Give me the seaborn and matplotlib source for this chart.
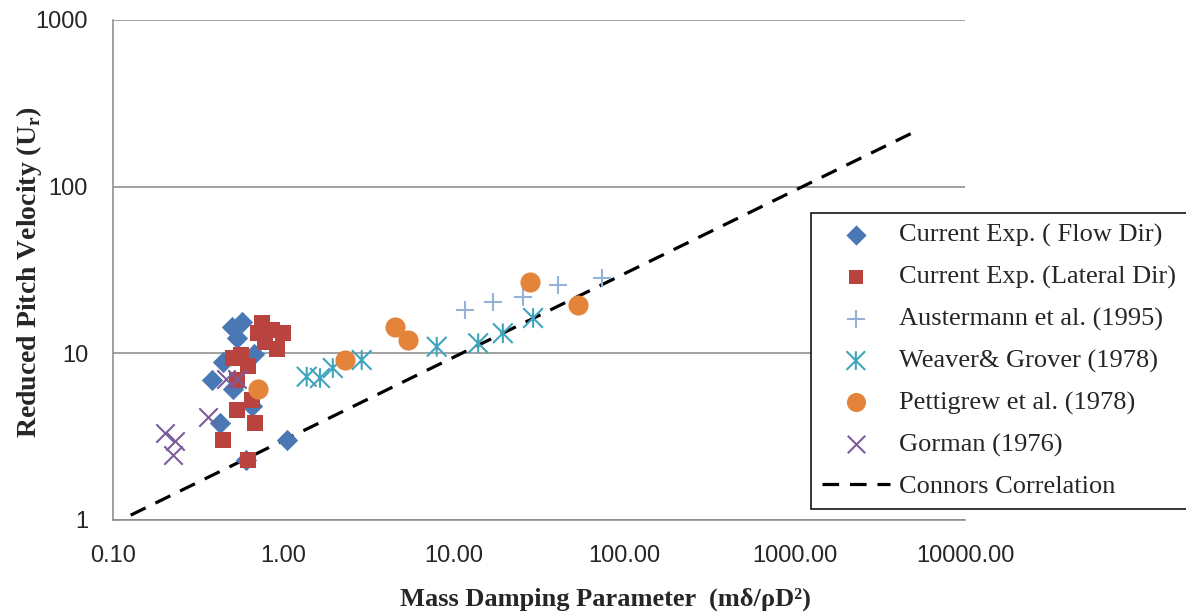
import numpy as np
import pandas as pd
import matplotlib
matplotlib.use("Agg")
import matplotlib.pyplot as plt
from matplotlib import font_manager
from matplotlib.path import Path
from matplotlib.ticker import FixedLocator, FixedFormatter, NullLocator
import seaborn as sns

# ---------------- data ----------------
flow_x = [0.499, 0.571, 0.534, 0.443, 0.381, 0.506, 0.654, 0.425, 1.05, 0.603, 0.672]
flow_y = [14.4, 15.4, 12.4, 8.87, 6.92, 6.11, 4.83, 3.82, 3.02, 2.29, 9.9]

lateral_x = [0.749, 0.857, 0.709, 0.995, 0.780, 0.917, 0.506, 0.564, 0.620,
             0.534, 0.654, 0.534, 0.681, 0.443, 0.620]
lateral_y = [15.2, 13.8, 13.2, 13.2, 11.7, 10.6, 9.37, 9.77, 8.39,
             6.92, 5.25, 4.57, 3.82, 3.02, 2.29]

austermann_x = [11.6, 17.0, 25.5, 40.9, 74.1]
austermann_y = [18.2, 20.3, 21.8, 25.7, 28.3]

weaver_x = [1.37, 1.64, 1.95, 2.88, 7.94, 13.9, 19.4, 29.2]
weaver_y = [7.24, 7.11, 8.16, 9.12, 10.96, 11.5, 13.2, 16.3]

pettigrew_x = [0.709, 2.30, 4.52, 5.38, 28.0, 53.6]
pettigrew_y = [6.11, 9.12, 14.4, 12.0, 26.8, 19.5]

gorman_x = [0.202, 0.231, 0.225, 0.361, 0.460, 0.534]
gorman_y = [3.32, 2.98, 2.45, 4.15, 7.01, 7.01]

# Connors correlation: Ur = K * (m delta / rho D^2) ** 0.5
connors_k = 3.0
connors_exp = 0.5
connors_x = [0.127, 5000.0]

x_ticks = [0.1, 1, 10, 100, 1000, 10000]
x_tick_labels = ["0.10", "1.00", "10.00", "100.00", "1000.00", "10000.00"]
y_ticks = [1, 10, 100, 1000]
y_tick_labels = ["1", "10", "100", "1000"]

labels = ["Current Exp. ( Flow Dir)", "Current Exp. (Lateral Dir)",
          "Austermann et al. (1995)", "Weaver& Grover (1978)",
          "Pettigrew et al. (1978)", "Gorman (1976)", "Connors Correlation"]

# ---------------- style ----------------
sns.set_style("white")
plt.rcParams["font.family"] = ["Liberation Serif", "DejaVu Serif"]
plt.rcParams["mathtext.fontset"] = "custom"
plt.rcParams["mathtext.rm"] = "Liberation Serif:bold"
plt.rcParams["mathtext.bf"] = "Liberation Serif:bold"

available = {f.name for f in font_manager.fontManager.ttflist}
if "Liberation Sans Narrow" in available:
    xtick_font, xtick_size = "Liberation Sans Narrow", 20
else:
    xtick_font, xtick_size = "Liberation Sans", 17

c_flow = "#4A78B4"
c_lat = "#B9433F"
c_aus = "#95B3D7"
c_weav = "#3FA5BD"
c_pet = "#E3843A"
c_gor = "#7B5C9C"

# Excel-style star: vertical bar plus a diagonal cross
star = Path([(0, -1), (0, 1), (-1, -1), (1, 1), (-1, 1), (1, -1)],
            [Path.MOVETO, Path.LINETO, Path.MOVETO, Path.LINETO,
             Path.MOVETO, Path.LINETO])

fig = plt.figure(figsize=(11.86, 6.15), dpi=100)
ax = fig.add_axes([113 / 1186, 95 / 615, 852 / 1186, 500 / 615])

# dashed correlation line (under the markers)
cx = np.array(connors_x)
line_df = pd.DataFrame({"x": cx, "y": connors_k * cx ** connors_exp})
sns.lineplot(data=line_df, x="x", y="y", ax=ax, color="black", lw=2.3,
             zorder=2, label=labels[6])
ax.lines[-1].set_dashes((5.2, 3.4))

sns.scatterplot(x=flow_x, y=flow_y, ax=ax, marker="D", s=118, color=c_flow,
                linewidth=0, zorder=3, label=labels[0])
sns.scatterplot(x=lateral_x, y=lateral_y, ax=ax, marker="s", s=120, color=c_lat,
                linewidth=0, zorder=4, label=labels[1])
sns.scatterplot(x=austermann_x, y=austermann_y, ax=ax, marker="+", s=175,
                color=c_aus, linewidth=1.5, zorder=5, label=labels[2])
sns.scatterplot(x=weaver_x, y=weaver_y, ax=ax, marker=star, s=200,
                facecolor="none", edgecolor=c_weav, color=c_weav,
                linewidth=1.5, zorder=6, label=labels[3])
sns.scatterplot(x=pettigrew_x, y=pettigrew_y, ax=ax, marker="o", s=210,
                color=c_pet, linewidth=0, zorder=7, label=labels[4])
sns.scatterplot(x=gorman_x, y=gorman_y, ax=ax, marker="x", s=175, color=c_gor,
                linewidth=1.5, zorder=8, label=labels[5])

ax.set_xscale("log")
ax.set_yscale("log")
ax.set_xlim(0.1, 10000)
ax.set_ylim(1, 1000)

ax.xaxis.set_major_locator(FixedLocator(x_ticks))
ax.xaxis.set_major_formatter(FixedFormatter(x_tick_labels))
ax.yaxis.set_major_locator(FixedLocator(y_ticks))
ax.yaxis.set_major_formatter(FixedFormatter(y_tick_labels))
ax.xaxis.set_minor_locator(NullLocator())
ax.yaxis.set_minor_locator(NullLocator())
ax.tick_params(axis="both", length=0)
ax.tick_params(axis="x", pad=18)
ax.tick_params(axis="y", pad=18)
for t in ax.get_xticklabels():
    t.set_fontfamily(xtick_font)
    t.set_fontsize(xtick_size)
for t in ax.get_yticklabels():
    t.set_fontfamily("Liberation Sans")
    t.set_fontsize(17)

ax.grid(False)
ax.yaxis.grid(True, color="#878787", lw=1.1)
ax.set_axisbelow(True)
for side in ("top", "right"):
    ax.spines[side].set_visible(False)
for side in ("left", "bottom"):
    ax.spines[side].set_color("#878787")
    ax.spines[side].set_linewidth(1.1)

ax.set_xlabel("Mass Damping Parameter  (m\u03b4/\u03c1D\u00b2)", fontsize=19,
              fontweight="bold")
ax.xaxis.set_label_coords(0.5775, -0.135)
ax.set_ylabel(r"Reduced Pitch Velocity (U$_\mathregular{r}$)", fontsize=20,
              fontweight="bold", va="center")
ax.yaxis.set_label_coords(-0.0986, 0.495)

handles, lbls = ax.get_legend_handles_labels()
order = [lbls.index(l) for l in labels]
leg = ax.legend([handles[i] for i in order], [lbls[i] for i in order],
                loc="upper left", bbox_to_anchor=(810.7 / 1186, 1 - 212.7 / 615),
                bbox_transform=fig.transFigure, borderaxespad=0,
                fontsize=19, frameon=True, fancybox=False, framealpha=1,
                edgecolor="black", borderpad=0.41, labelspacing=0.68,
                handlelength=2.6, handletextpad=0.35, markerscale=0.95)
leg.get_frame().set_linewidth(1.1)

fig.savefig("out.png", dpi=100)
